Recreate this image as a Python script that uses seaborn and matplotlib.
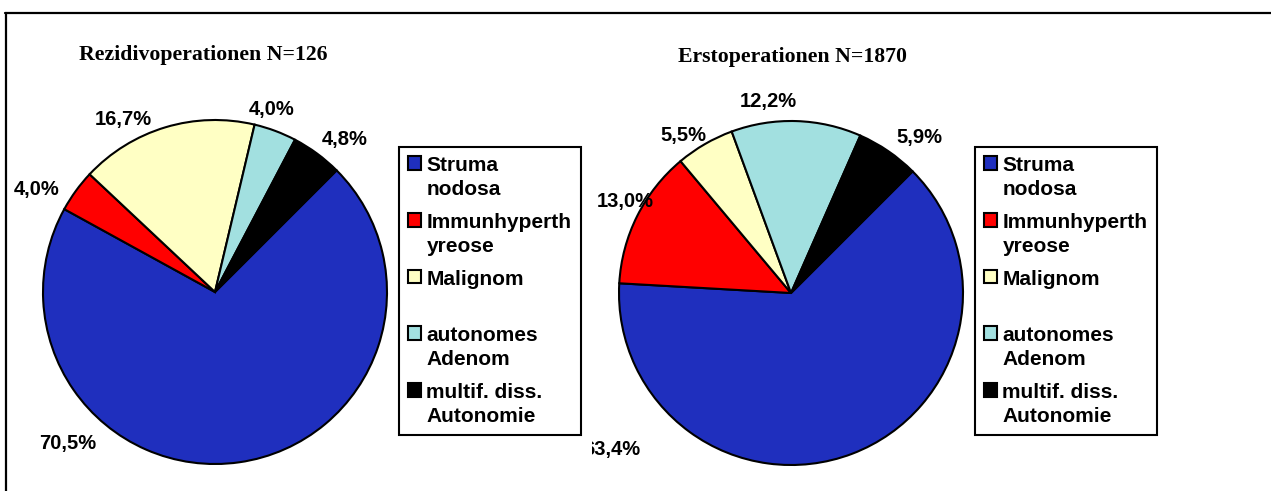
import numpy as np
import matplotlib.pyplot as plt
import seaborn as sns
from matplotlib.lines import Line2D

sns.set_theme(style="white")
plt.rcParams["font.family"] = ["Liberation Sans", "DejaVu Sans"]
plt.rcParams["text.color"] = "black"

categories = ["Struma\nnodosa", "Immunhyperth\nyreose", "Malignom\n ",
              "autonomes\nAdenom", "multif. diss.\nAutonomie"]
rezidiv = [70.5, 4.0, 16.7, 4.0, 4.8]
erst = [63.4, 13.0, 5.5, 12.2, 5.9]
titles = ["Rezidivoperationen N=126", "Erstoperationen N=1870"]

colors = sns.color_palette(["#1F2FBE", "#FF0000", "#FFFFC4", "#A2E0E0", "#000000"])

W, H = 1271, 491
R = 172  # pie radius in pixels

# layout: axes box (px), pie centre (px), label centres (px), legend top-left (px), title centre (px)
layouts = [
    dict(box=(10, 75, 395, 485), center=(215, 292),
         labels=[(68, 444), (37, 189), (123, 120), (272, 109), (345, 140)],
         legend=(399, 147), title=(203, 55)),
    dict(box=(592, 75, 970, 485), center=(791, 293),
         labels=[(612, 449), (625, 201), (683, 136), (768, 102), (919, 138)],
         legend=(975, 147), title=(793, 57)),
]

fig = plt.figure(figsize=(W / 100, H / 100), dpi=100)

for values, title, lay in zip([rezidiv, erst], titles, layouts):
    x0, y0, x1, y1 = lay["box"]
    cx, cy = lay["center"]
    ax = fig.add_axes([x0 / W, 1 - y1 / H, (x1 - x0) / W, (y1 - y0) / H])
    wedges, _ = ax.pie(values, colors=colors, startangle=45, counterclock=False,
                       wedgeprops=dict(edgecolor="black", linewidth=1.5))
    ax.set_xlim((x0 - cx) / R, (x1 - cx) / R)
    ax.set_ylim((cy - y1) / R, (cy - y0) / R)
    ax.set_aspect("equal")
    ax.axis("off")

    for v, (lx, ly) in zip(values, lay["labels"]):
        ax.text((lx - cx) / R, (cy - ly) / R, f"{v:.1f}".replace(".", ",") + "%",
                ha="center", va="center", fontsize=14.5, fontweight="bold",
                color="black", clip_on=True)

    tx, ty = lay["title"]
    fig.text(tx / W, 1 - ty / H, title, ha="center", va="center",
             fontsize=15.7, fontweight="bold", family=["Liberation Serif", "DejaVu Serif"])

    lx, ly = lay["legend"]
    leg = ax.legend(wedges, categories, loc="upper left",
                    bbox_to_anchor=(lx / W, 1 - ly / H), bbox_transform=fig.transFigure,
                    borderaxespad=0, borderpad=0.45, labelspacing=0.68,
                    handlelength=0.62, handleheight=0.62, handletextpad=0.25,
                    frameon=True, fancybox=False, framealpha=1, edgecolor="black",
                    prop=dict(size=15, weight="bold"))
    leg.get_frame().set_linewidth(1.5)
    for t in leg.get_texts():
        t.set_linespacing(1.3)
        t.set_color("black")
    for col in leg._legend_handle_box.get_children():
        for row in col.get_children():
            row.align = "top"

# outer frame (only top and left edges visible)
fig.add_artist(Line2D([5 / W, 1], [1 - 13 / H, 1 - 13 / H], color="black", lw=1.6))
fig.add_artist(Line2D([6 / W, 6 / W], [1 - 13 / H, 0], color="black", lw=1.6))

fig.savefig("out.png", dpi=100)
